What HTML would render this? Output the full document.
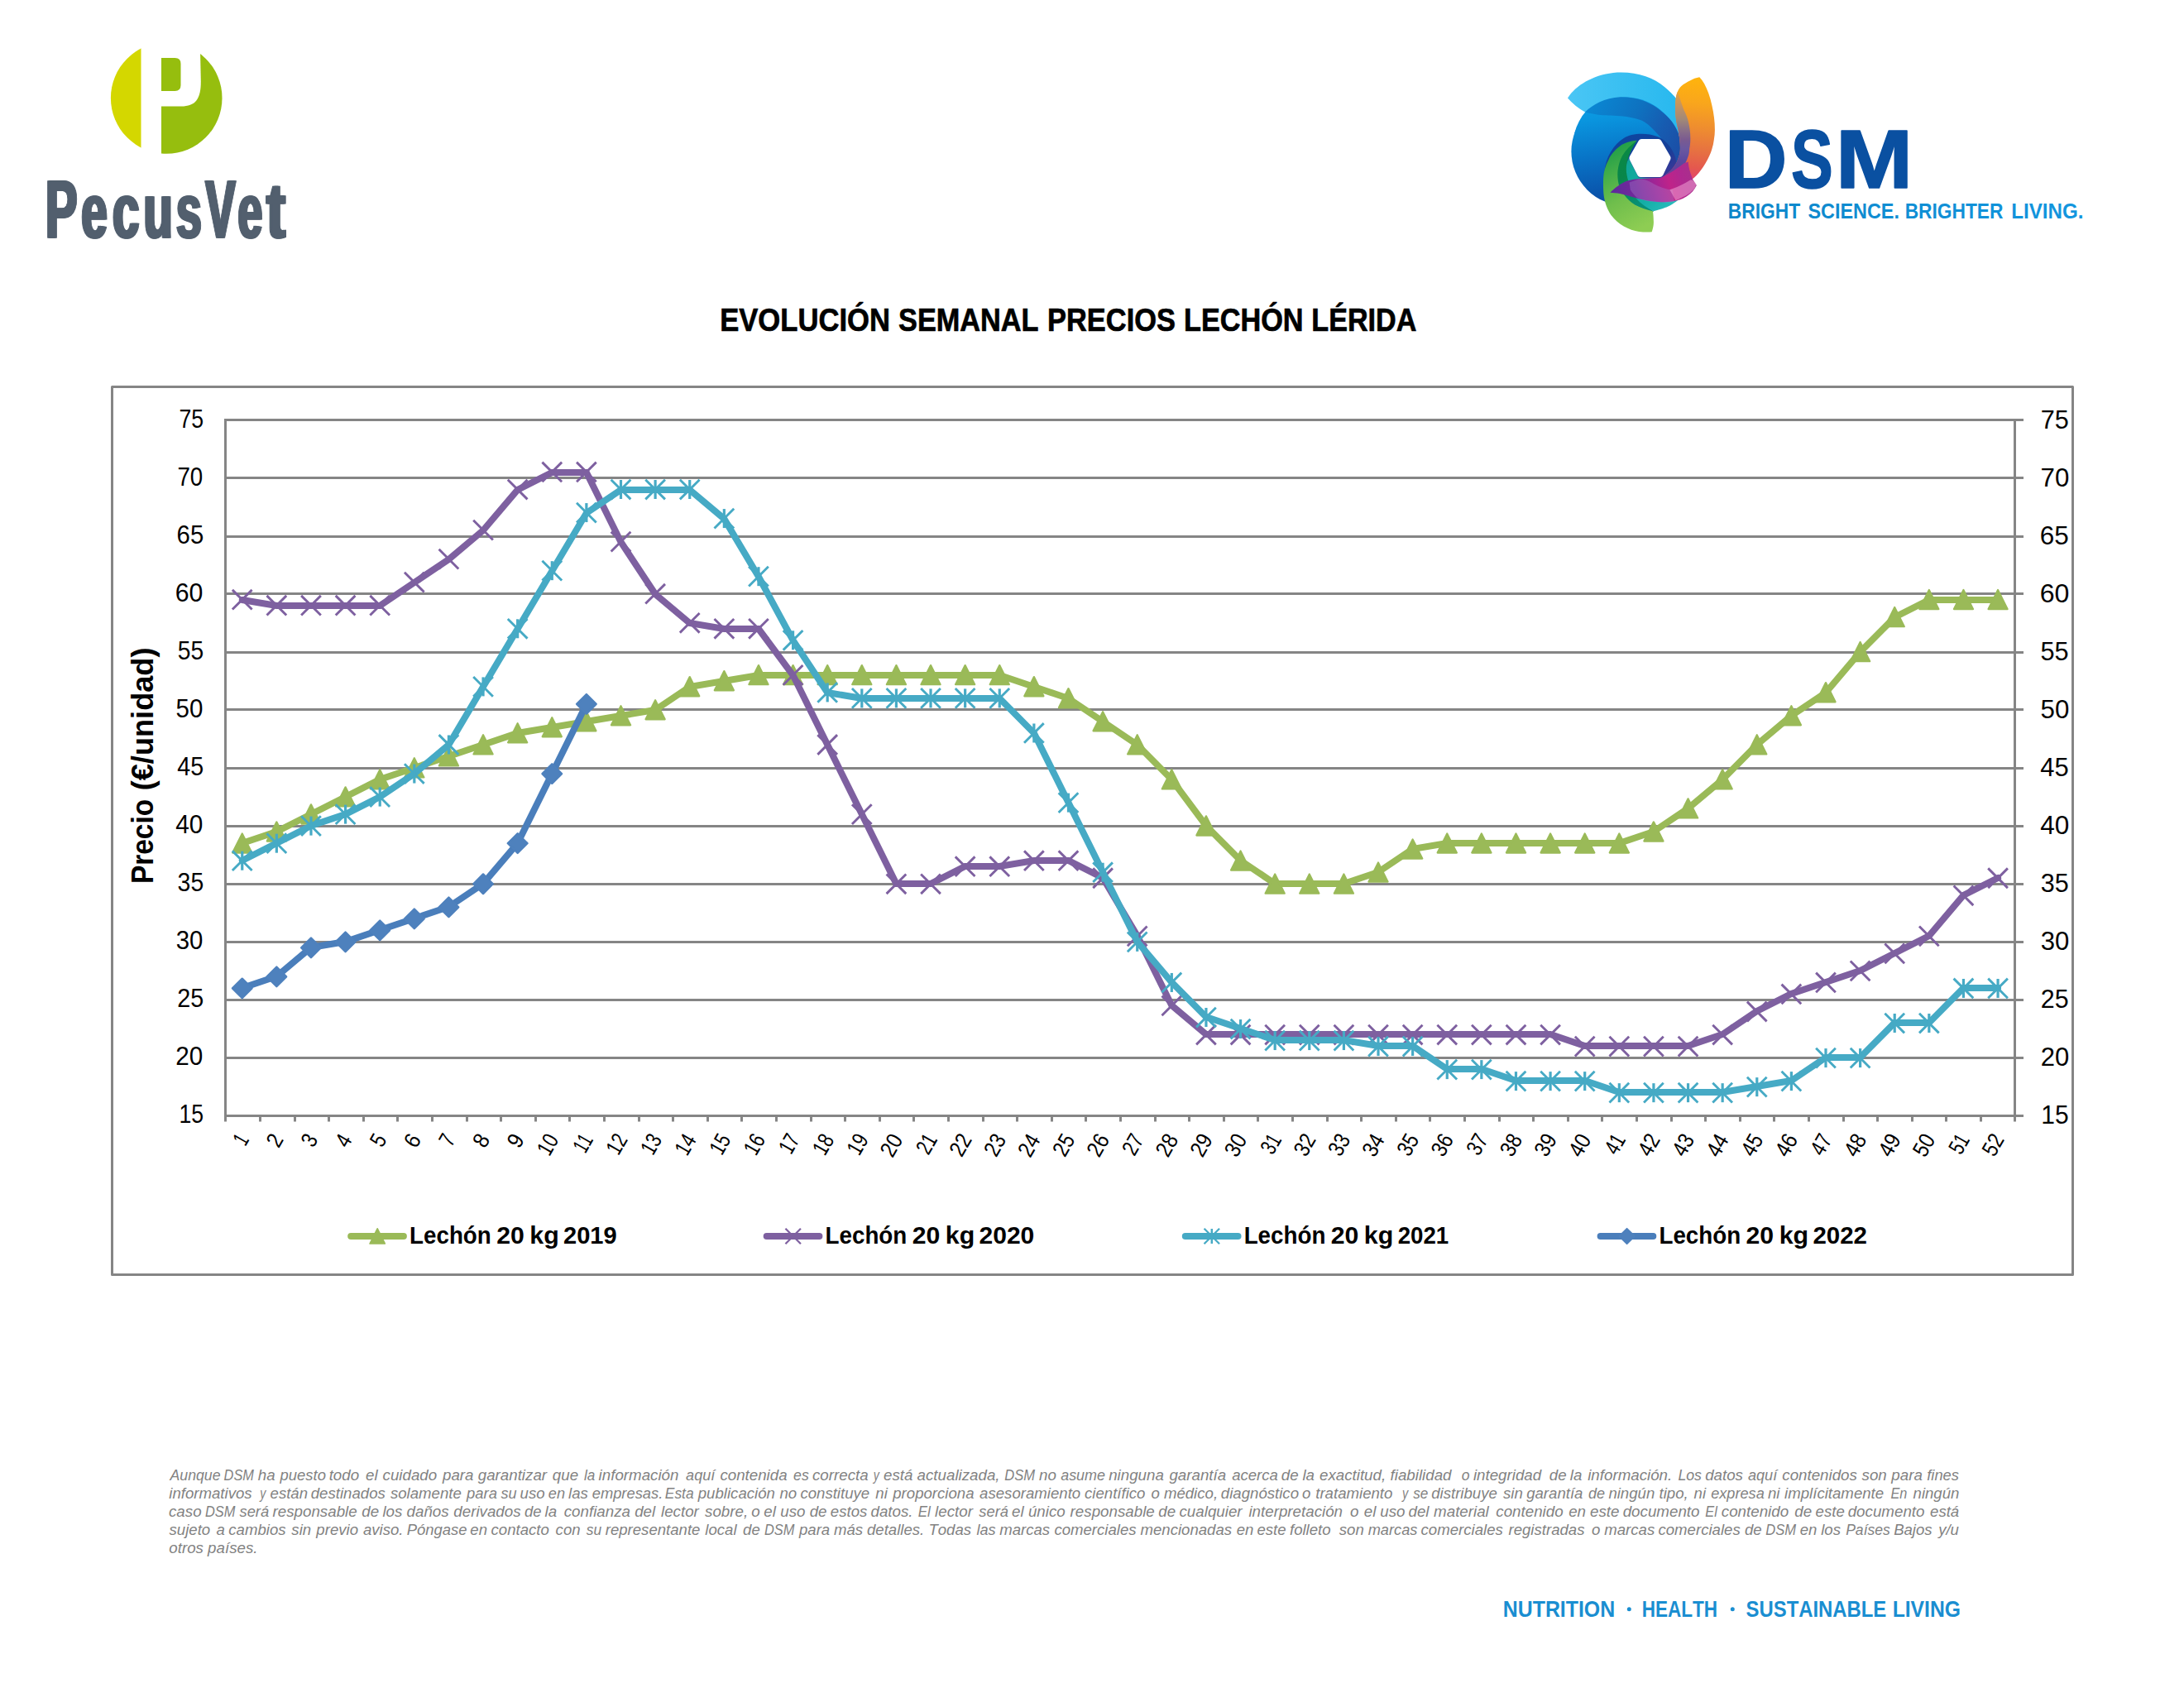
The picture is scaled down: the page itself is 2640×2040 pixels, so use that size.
<!DOCTYPE html>
<html lang="es">
<head>
<meta charset="utf-8">
<title>Evolución semanal precios lechón Lérida</title>
<style>
html,body{margin:0;padding:0;background:#fff;}
body{width:2640px;height:2040px;overflow:hidden;position:relative;font-family:"Liberation Sans",sans-serif;}
svg{position:absolute;left:0;top:0;display:block;}
text{font-family:"Liberation Sans",sans-serif;font-kerning:none;}
.b{font-weight:bold;}
.i{font-style:italic;}
</style>
</head>
<body>
<svg width="2640" height="2040" viewBox="0 0 2640 2040">

<g id="pecus">
<defs>
<clipPath id="pcL"><rect x="100" y="40" width="70.5" height="160"/></clipPath>
<clipPath id="pcR"><rect x="195" y="40" width="100" height="160"/></clipPath>
</defs>
<circle cx="201.2" cy="118.5" r="67.3" fill="#d4d700" clip-path="url(#pcL)"/>
<circle cx="201.2" cy="118.5" r="67.3" fill="#96be0e" clip-path="url(#pcR)"/>
<path d="M194 40 H241.6 L242.8 98 C243 120 236 128.5 219 128.5 H194 Z" fill="#fff"/>
<path d="M195 70.1 H211.5 Q218.5 70.1 218.5 77.1 V102.9 Q218.5 109.9 211.5 109.9 H195 Z" fill="#96be0e"/>
</g>

<g fill="#525f6e" stroke="#525f6e" stroke-width="1.4" stroke-linejoin="miter">
<text x="53.69" y="286.50" font-size="97.4" class="b" textLength="38.48" lengthAdjust="spacingAndGlyphs">P</text>
<text x="54.99" y="286.50" font-size="97.4" class="b" textLength="38.48" lengthAdjust="spacingAndGlyphs">P</text>
<text x="56.29" y="286.50" font-size="97.4" class="b" textLength="38.48" lengthAdjust="spacingAndGlyphs">P</text>
<text x="97.11" y="286.50" font-size="92.0" class="b" textLength="31.21" lengthAdjust="spacingAndGlyphs">e</text>
<text x="98.41" y="286.50" font-size="92.0" class="b" textLength="31.21" lengthAdjust="spacingAndGlyphs">e</text>
<text x="99.71" y="286.50" font-size="92.0" class="b" textLength="31.21" lengthAdjust="spacingAndGlyphs">e</text>
<text x="134.84" y="286.50" font-size="92.0" class="b" textLength="32.15" lengthAdjust="spacingAndGlyphs">c</text>
<text x="136.14" y="286.50" font-size="92.0" class="b" textLength="32.15" lengthAdjust="spacingAndGlyphs">c</text>
<text x="137.44" y="286.50" font-size="92.0" class="b" textLength="32.15" lengthAdjust="spacingAndGlyphs">c</text>
<text x="172.22" y="286.50" font-size="92.0" class="b" textLength="35.29" lengthAdjust="spacingAndGlyphs">u</text>
<text x="173.52" y="286.50" font-size="92.0" class="b" textLength="35.29" lengthAdjust="spacingAndGlyphs">u</text>
<text x="174.82" y="286.50" font-size="92.0" class="b" textLength="35.29" lengthAdjust="spacingAndGlyphs">u</text>
<text x="211.66" y="286.50" font-size="92.0" class="b" textLength="30.71" lengthAdjust="spacingAndGlyphs">s</text>
<text x="212.96" y="286.50" font-size="92.0" class="b" textLength="30.71" lengthAdjust="spacingAndGlyphs">s</text>
<text x="214.26" y="286.50" font-size="92.0" class="b" textLength="30.71" lengthAdjust="spacingAndGlyphs">s</text>
<text x="247.23" y="286.50" font-size="97.4" class="b" textLength="36.04" lengthAdjust="spacingAndGlyphs">V</text>
<text x="248.53" y="286.50" font-size="97.4" class="b" textLength="36.04" lengthAdjust="spacingAndGlyphs">V</text>
<text x="249.83" y="286.50" font-size="97.4" class="b" textLength="36.04" lengthAdjust="spacingAndGlyphs">V</text>
<text x="286.21" y="286.50" font-size="92.0" class="b" textLength="29.71" lengthAdjust="spacingAndGlyphs">e</text>
<text x="287.51" y="286.50" font-size="92.0" class="b" textLength="29.71" lengthAdjust="spacingAndGlyphs">e</text>
<text x="288.81" y="286.50" font-size="92.0" class="b" textLength="29.71" lengthAdjust="spacingAndGlyphs">e</text>
<text x="320.86" y="286.50" font-size="94.0" class="b" textLength="22.88" lengthAdjust="spacingAndGlyphs">t</text>
<text x="322.16" y="286.50" font-size="94.0" class="b" textLength="22.88" lengthAdjust="spacingAndGlyphs">t</text>
<text x="323.46" y="286.50" font-size="94.0" class="b" textLength="22.88" lengthAdjust="spacingAndGlyphs">t</text>
</g>
<g id="dsm">
<defs>
<linearGradient id="gA" x1="0" y1="0" x2="1" y2="0"><stop offset="0" stop-color="#4ac6f5"/><stop offset="1" stop-color="#27b8ee"/></linearGradient>
<linearGradient id="gB" gradientUnits="userSpaceOnUse" x1="1945" y1="125" x2="1962" y2="250"><stop offset="0" stop-color="#0b9be3"/><stop offset="0.12" stop-color="#0a96df"/><stop offset="0.5" stop-color="#0873c6"/><stop offset="1" stop-color="#0b47a0"/></linearGradient>
<linearGradient id="gC" gradientUnits="userSpaceOnUse" x1="1920" y1="125" x2="2030" y2="185"><stop offset="0" stop-color="#0a88d4"/><stop offset="0.45" stop-color="#0e72c0"/><stop offset="0.75" stop-color="#175bb0"/><stop offset="1" stop-color="#1b4ea6"/></linearGradient>
<linearGradient id="gD" x1="0" y1="0" x2="1" y2="1"><stop offset="0" stop-color="#0a48a4"/><stop offset="0.6" stop-color="#163f98"/><stop offset="1" stop-color="#4a3398"/></linearGradient>
<linearGradient id="gF" gradientUnits="userSpaceOnUse" x1="2052" y1="93" x2="2040" y2="217"><stop offset="0" stop-color="#ffb40c"/><stop offset="0.25" stop-color="#f9a61c"/><stop offset="0.5" stop-color="#ee8c30"/><stop offset="0.72" stop-color="#e67042"/><stop offset="0.88" stop-color="#e4584e"/><stop offset="1" stop-color="#e3446e"/></linearGradient>
<linearGradient id="gG" gradientUnits="userSpaceOnUse" x1="0" y1="110.8" x2="0" y2="216"><stop offset="0" stop-color="#e8a040"/><stop offset="0.21" stop-color="#b8906a"/><stop offset="0.325" stop-color="#a08878"/><stop offset="0.44" stop-color="#8a7088"/><stop offset="0.553" stop-color="#7a5a90"/><stop offset="0.658" stop-color="#6a58a0"/><stop offset="0.8" stop-color="#5a48a0"/><stop offset="1" stop-color="#6a3a98"/></linearGradient>
<linearGradient id="gH" gradientUnits="userSpaceOnUse" x1="1948" y1="236" x2="2045" y2="205"><stop offset="0" stop-color="#5b2a9c"/><stop offset="0.3" stop-color="#74289a"/><stop offset="0.55" stop-color="#a42494"/><stop offset="0.7" stop-color="#bf2389"/><stop offset="0.85" stop-color="#b02890"/><stop offset="1" stop-color="#a8308c"/></linearGradient>
<linearGradient id="gI" x1="0.3" y1="0" x2="0.6" y2="1"><stop offset="0" stop-color="#1a9c48"/><stop offset="0.3" stop-color="#45ae49"/><stop offset="0.6" stop-color="#6fbe4c"/><stop offset="1" stop-color="#8ecd53"/></linearGradient>
<linearGradient id="gJ" x1="0" y1="0" x2="0.4" y2="1"><stop offset="0" stop-color="#0b8a42"/><stop offset="0.5" stop-color="#08864a"/><stop offset="0.75" stop-color="#078c62"/><stop offset="1" stop-color="#079078"/></linearGradient>
<linearGradient id="gK" x1="0" y1="0" x2="1" y2="1"><stop offset="0" stop-color="#0fa596"/><stop offset="0.6" stop-color="#14aea6"/><stop offset="1" stop-color="#2cc0c2"/></linearGradient>
</defs>
<!-- A light blue petal -->
<path d="M1895 118.5 C1905 103 1925 91 1950 88 C1975 85.5 1998 93 2012 105 C2018 110 2023 115 2027 120 L2034 165 L1990 150 L1916.1 135.4 Q1904 129 1895 118.5 Z" fill="url(#gA)"/>
<!-- B blue disc -->
<circle cx="1965" cy="183" r="65.6" fill="url(#gB)"/>
<path d="M1917 134.6 C1910.5 142 1906 151 1903.2 161 L1916 168 L1930 138 Z" fill="url(#gB)"/>
<!-- C upper band -->
<path d="M1916.1 135.4 C1925 126.5 1940 118.2 1958.3 117.3 C1977 116.8 1996 123 2009.5 135.5 C2021 144 2029 157 2032 171.6 L2033 190 L2022 200 L2020 191 C2016 177 2008 166 2000 158 C1995 153 1990 148.1 1984.8 145.8 C1979 143.3 1973 142.2 1966 141 C1955 139.6 1945 139.8 1937.4 139.2 C1930 138.6 1923 137 1916.1 135.4 Z" fill="url(#gC)"/>
<!-- D darkest band -->
<path d="M1939.5 207 C1941 190 1950 175 1962.8 167 C1972 161 1990 160 2004 165.2 C2014 169 2022 180 2025.1 189.9 C2028 199 2026 209 2018 216 L2006 218 L1975 218 L1950 215 Z" fill="url(#gD)"/>
<!-- F orange petal -->
<path d="M2054.3 93.3 C2050 94 2046.5 95.5 2043.3 97.2 C2039 99.3 2035.5 101.3 2032.7 103.7 C2030.5 105.8 2029 108 2027.9 110.8 C2026.5 114 2025.8 117.5 2025.5 121.5 C2025.1 125.5 2025 129 2025 133.3 C2025.1 137.5 2025.5 141.5 2026.1 145.2 C2026.8 149.5 2027.7 153 2028.5 157 C2029.3 161 2029.9 165 2030.3 168.9 C2030.7 173 2031 176.5 2030.9 180 C2030.8 184 2030.2 187 2029 190 C2027 198 2021 207 2007 216 L2045.3 216.7 C2052 212 2060 202 2066.3 188.3 C2067.6 185.6 2068.6 182.8 2069.4 180 C2070.6 176.3 2071.4 172.6 2071.8 168.9 C2072.5 165 2072.9 161 2072.9 157 C2072.9 152 2072.6 147 2072 142.2 C2071.4 137 2070.5 132 2069.4 127.4 C2068.3 122.3 2066.9 117.3 2065.2 112.6 C2063.7 108.5 2061.9 104.5 2059.9 100.7 C2058.3 97.9 2056.4 95.4 2054.3 93.3 Z" fill="url(#gF)"/>
<!-- G translucent overlay on orange left part -->
<path d="M2027.9 110.8 C2026.5 114 2025.8 117.5 2025.5 121.5 C2025.1 125.5 2025 129 2025 133.3 C2025.1 137.5 2025.5 141.5 2026.1 145.2 C2026.8 149.5 2027.7 153 2028.5 157 C2029.3 161 2029.9 165 2030.3 168.9 C2030.7 173 2031 176.5 2030.9 180 C2030.8 184 2030.2 187 2029 190 C2027 198 2021 207 2007 216 L2026 214 C2032 208 2037.5 198 2041 188 C2041.8 185.5 2042 183 2042.1 180 C2042.8 176.5 2043.3 172.5 2043.3 168.9 C2043.4 165 2043.2 161 2042.7 157 C2042.2 153 2041.4 149 2040.4 145.2 C2039.2 141 2037.5 137 2035.6 133.3 C2034 129.3 2032.7 125.3 2031.5 121.5 C2030.3 117.8 2029.1 114.2 2027.9 110.8 Z" fill="url(#gG)"/>
<!-- K teal -->
<path d="M1968.8 191.5 L1980.7 214.4 L2008 216 L2028.2 242 C2022 247 2016 250 2013.2 250.8 C2008 252.8 2003 254.2 1999.5 254.9 L1990 254 C1975 248 1966 235 1964 220 C1963 210 1965 198 1968.8 191.5 Z" fill="url(#gK)"/>
<!-- J dark green band -->
<path d="M1978.5 170.5 C1974 176 1971 183 1968.8 189.5 C1966 196 1965 204 1966.5 211.2 C1968 220 1972 232 1978 240 C1984 247 1991 251.5 1999 255.4 L1996 258 L1960 240 L1953 205 L1962 180 Z" fill="url(#gJ)"/>
<!-- I light green petal -->
<path d="M1979 169.8 C1970 170.5 1963 173 1958.3 176.4 C1951 182 1947 187 1944.5 192.9 C1940.5 200 1938.3 208 1938.1 215.8 C1937.8 224 1938 232 1939 238.7 C1940.5 247 1943.5 254 1947.3 259.7 C1951.5 265.5 1957 270 1962.8 273.5 C1969 277 1975 279 1981.2 279.9 C1987 280.7 1992 280.7 1996.7 280.3 C1998.6 275 1999.2 270 1998.8 266.2 C1998.7 262 1998.5 258 1997.8 255.2 C1990 253.5 1983 251 1976.6 247.8 C1971 244 1966.5 240 1963.8 235.9 C1960.5 232 1958.3 228 1957.3 224.9 C1955.5 219 1955 212 1955.5 206.6 C1956.2 200 1958 194 1961 188.3 C1965 181.5 1971 175 1979 169.8 Z" fill="url(#gI)"/>
<!-- H magenta petal -->
<path d="M1946.4 232.7 C1952 227 1960 221 1967.4 218.5 C1975 216 1985 215.5 2006.8 214.9 C2015 212 2028 203 2035.2 197.5 L2040.7 195.6 C2041 200 2042 206 2046.2 216.7 L2050.8 224 C2048 230 2044 234 2040.7 235.9 C2036 239.5 2031 241.5 2026.9 242.3 C2020 244 2014 244.5 2008.6 244.2 C2002 244 1996 243.5 1990.3 242.3 C1984 241 1978 239.5 1972 237.8 C1966 236 1962 235 1958.3 234.1 C1954 233.2 1950 232.8 1946.4 232.7 Z" fill="url(#gH)"/>
<path d="M1969.5 220.4 L1980.9 216.5 C1988 216 1994 219 1998.2 221.7 C2006 226 2014 229 2022 229.5 L2024 244 C2016 245 2010 244.6 2004.7 244.2 C2000 244 1996 243.6 1991.7 242.9 C1988 242.3 1984 241.2 1980.9 239.9 C1978.5 238.6 1976.8 237.2 1975.4 235.4 C1973.5 233.5 1972 231.5 1970.8 229.5 Z" fill="#a98ad0" opacity="0.33"/>
<path d="M2018.4 229.2 C2028 226 2036 222 2043.3 217.4 L2045.7 217.4 L2050.4 222.1 L2049.2 226.3 C2047.5 229 2045.5 231 2043.3 232.8 C2040.5 235 2037.5 236.7 2034.4 238.1 C2031.5 239.8 2028.5 241.2 2025.5 242.3 Z" fill="#f0a0d4" opacity="0.55"/>
<!-- hexagon hole -->
<path d="M1984.3 172.0 L2004.6 172.0 L2015.6 191.1 L2006.7 209.9 L1983.0 209.9 L1973.4 191.1 Z" fill="#fff" stroke="#fff" stroke-width="8" stroke-linejoin="round"/>
</g>

<g fill="#0a50a1" stroke="#0a50a1" stroke-width="1.6" stroke-linejoin="round">
<text x="2084.79" y="226.50" font-size="100" class="b" textLength="75.72" lengthAdjust="spacingAndGlyphs">D</text>
<text x="2164.91" y="226.50" font-size="100" class="b" textLength="50.77" lengthAdjust="spacingAndGlyphs">S</text>
<text x="2218.88" y="226.50" font-size="100" class="b" textLength="93.64" lengthAdjust="spacingAndGlyphs">M</text>
</g>
<defs><linearGradient id="gTag" gradientUnits="userSpaceOnUse" x1="2090" y1="0" x2="2517" y2="0"><stop offset="0" stop-color="#0d86c9"/><stop offset="1" stop-color="#1296df"/></linearGradient></defs>
<g fill="url(#gTag)">
<text x="2088.78" y="264.00" font-size="26.3" class="b" textLength="87.27" lengthAdjust="spacingAndGlyphs">BRIGHT</text>
<text x="2185.43" y="264.00" font-size="26.3" class="b" textLength="110.48" lengthAdjust="spacingAndGlyphs">SCIENCE.</text>
<text x="2302.68" y="264.00" font-size="26.3" class="b" textLength="118.79" lengthAdjust="spacingAndGlyphs">BRIGHTER</text>
<text x="2431.18" y="264.00" font-size="26.3" class="b" textLength="87.28" lengthAdjust="spacingAndGlyphs">LIVING.</text>
</g>
<g fill="#000" stroke="#000" stroke-width="0.7">
<text x="870.13" y="400.20" font-size="39.0" class="b" textLength="205.85" lengthAdjust="spacingAndGlyphs">EVOLUCIÓN</text>
<text x="1086.06" y="400.20" font-size="39.0" class="b" textLength="169.44" lengthAdjust="spacingAndGlyphs">SEMANAL</text>
<text x="1266.05" y="400.20" font-size="39.0" class="b" textLength="154.85" lengthAdjust="spacingAndGlyphs">PRECIOS</text>
<text x="1431.06" y="400.20" font-size="39.0" class="b" textLength="144.50" lengthAdjust="spacingAndGlyphs">LECHÓN</text>
<text x="1585.37" y="400.20" font-size="39.0" class="b" textLength="126.98" lengthAdjust="spacingAndGlyphs">LÉRIDA</text>
</g>
<rect x="135.5" y="467.5" width="2370.0" height="1073.0" fill="none" stroke="#858585" stroke-width="3" stroke-linejoin="round"/>
<g stroke="#858585" stroke-width="3" fill="none">
<line x1="271.0" y1="1348.5" x2="2446" y2="1348.5"/>
<line x1="271.0" y1="1278.5" x2="2446" y2="1278.5"/>
<line x1="271.0" y1="1208.5" x2="2446" y2="1208.5"/>
<line x1="271.0" y1="1138.5" x2="2446" y2="1138.5"/>
<line x1="271.0" y1="1068.5" x2="2446" y2="1068.5"/>
<line x1="271.0" y1="998.5" x2="2446" y2="998.5"/>
<line x1="271.0" y1="928.5" x2="2446" y2="928.5"/>
<line x1="271.0" y1="857.5" x2="2446" y2="857.5"/>
<line x1="271.0" y1="788.5" x2="2446" y2="788.5"/>
<line x1="271.0" y1="717.5" x2="2446" y2="717.5"/>
<line x1="271.0" y1="648.5" x2="2446" y2="648.5"/>
<line x1="271.0" y1="577.5" x2="2446" y2="577.5"/>
<line x1="271.0" y1="507.5" x2="2446" y2="507.5"/>
<line x1="272.5" y1="506.0" x2="272.5" y2="1355.5"/>
<line x1="2435.5" y1="506.0" x2="2435.5" y2="1355.5"/>
<line x1="314.5" y1="1348.5" x2="314.5" y2="1355.5"/>
<line x1="356.5" y1="1348.5" x2="356.5" y2="1355.5"/>
<line x1="397.5" y1="1348.5" x2="397.5" y2="1355.5"/>
<line x1="439.5" y1="1348.5" x2="439.5" y2="1355.5"/>
<line x1="480.5" y1="1348.5" x2="480.5" y2="1355.5"/>
<line x1="522.5" y1="1348.5" x2="522.5" y2="1355.5"/>
<line x1="564.5" y1="1348.5" x2="564.5" y2="1355.5"/>
<line x1="605.5" y1="1348.5" x2="605.5" y2="1355.5"/>
<line x1="647.5" y1="1348.5" x2="647.5" y2="1355.5"/>
<line x1="688.5" y1="1348.5" x2="688.5" y2="1355.5"/>
<line x1="730.5" y1="1348.5" x2="730.5" y2="1355.5"/>
<line x1="772.5" y1="1348.5" x2="772.5" y2="1355.5"/>
<line x1="813.5" y1="1348.5" x2="813.5" y2="1355.5"/>
<line x1="855.5" y1="1348.5" x2="855.5" y2="1355.5"/>
<line x1="896.5" y1="1348.5" x2="896.5" y2="1355.5"/>
<line x1="938.5" y1="1348.5" x2="938.5" y2="1355.5"/>
<line x1="980.5" y1="1348.5" x2="980.5" y2="1355.5"/>
<line x1="1021.5" y1="1348.5" x2="1021.5" y2="1355.5"/>
<line x1="1063.5" y1="1348.5" x2="1063.5" y2="1355.5"/>
<line x1="1104.5" y1="1348.5" x2="1104.5" y2="1355.5"/>
<line x1="1146.5" y1="1348.5" x2="1146.5" y2="1355.5"/>
<line x1="1188.5" y1="1348.5" x2="1188.5" y2="1355.5"/>
<line x1="1229.5" y1="1348.5" x2="1229.5" y2="1355.5"/>
<line x1="1271.5" y1="1348.5" x2="1271.5" y2="1355.5"/>
<line x1="1312.5" y1="1348.5" x2="1312.5" y2="1355.5"/>
<line x1="1354.5" y1="1348.5" x2="1354.5" y2="1355.5"/>
<line x1="1396.5" y1="1348.5" x2="1396.5" y2="1355.5"/>
<line x1="1437.5" y1="1348.5" x2="1437.5" y2="1355.5"/>
<line x1="1479.5" y1="1348.5" x2="1479.5" y2="1355.5"/>
<line x1="1520.5" y1="1348.5" x2="1520.5" y2="1355.5"/>
<line x1="1562.5" y1="1348.5" x2="1562.5" y2="1355.5"/>
<line x1="1604.5" y1="1348.5" x2="1604.5" y2="1355.5"/>
<line x1="1645.5" y1="1348.5" x2="1645.5" y2="1355.5"/>
<line x1="1687.5" y1="1348.5" x2="1687.5" y2="1355.5"/>
<line x1="1728.5" y1="1348.5" x2="1728.5" y2="1355.5"/>
<line x1="1770.5" y1="1348.5" x2="1770.5" y2="1355.5"/>
<line x1="1812.5" y1="1348.5" x2="1812.5" y2="1355.5"/>
<line x1="1853.5" y1="1348.5" x2="1853.5" y2="1355.5"/>
<line x1="1895.5" y1="1348.5" x2="1895.5" y2="1355.5"/>
<line x1="1936.5" y1="1348.5" x2="1936.5" y2="1355.5"/>
<line x1="1978.5" y1="1348.5" x2="1978.5" y2="1355.5"/>
<line x1="2020.5" y1="1348.5" x2="2020.5" y2="1355.5"/>
<line x1="2061.5" y1="1348.5" x2="2061.5" y2="1355.5"/>
<line x1="2103.5" y1="1348.5" x2="2103.5" y2="1355.5"/>
<line x1="2144.5" y1="1348.5" x2="2144.5" y2="1355.5"/>
<line x1="2186.5" y1="1348.5" x2="2186.5" y2="1355.5"/>
<line x1="2228.5" y1="1348.5" x2="2228.5" y2="1355.5"/>
<line x1="2269.5" y1="1348.5" x2="2269.5" y2="1355.5"/>
<line x1="2311.5" y1="1348.5" x2="2311.5" y2="1355.5"/>
<line x1="2352.5" y1="1348.5" x2="2352.5" y2="1355.5"/>
<line x1="2394.5" y1="1348.5" x2="2394.5" y2="1355.5"/>
</g>
<g fill="#000">
<text x="216.47" y="1357.24" font-size="32.2" textLength="29.65" lengthAdjust="spacingAndGlyphs">15</text>
<text x="2467.32" y="1358.00" font-size="31.0" textLength="33.34" lengthAdjust="spacingAndGlyphs">15</text>
<text x="212.31" y="1287.22" font-size="32.2" textLength="33.06" lengthAdjust="spacingAndGlyphs">20</text>
<text x="2466.84" y="1288.00" font-size="31.0" textLength="34.47" lengthAdjust="spacingAndGlyphs">20</text>
<text x="214.26" y="1217.20" font-size="32.2" textLength="31.95" lengthAdjust="spacingAndGlyphs">25</text>
<text x="2466.87" y="1218.00" font-size="31.0" textLength="33.80" lengthAdjust="spacingAndGlyphs">25</text>
<text x="212.68" y="1147.18" font-size="32.2" textLength="32.67" lengthAdjust="spacingAndGlyphs">30</text>
<text x="2466.72" y="1148.00" font-size="31.0" textLength="34.60" lengthAdjust="spacingAndGlyphs">30</text>
<text x="214.62" y="1077.16" font-size="32.2" textLength="31.57" lengthAdjust="spacingAndGlyphs">35</text>
<text x="2466.74" y="1078.00" font-size="31.0" textLength="33.94" lengthAdjust="spacingAndGlyphs">35</text>
<text x="212.22" y="1007.14" font-size="32.2" textLength="33.15" lengthAdjust="spacingAndGlyphs">40</text>
<text x="2466.28" y="1008.00" font-size="31.0" textLength="35.05" lengthAdjust="spacingAndGlyphs">40</text>
<text x="214.34" y="937.12" font-size="32.2" textLength="31.86" lengthAdjust="spacingAndGlyphs">45</text>
<text x="2466.29" y="938.00" font-size="31.0" textLength="34.41" lengthAdjust="spacingAndGlyphs">45</text>
<text x="212.52" y="867.10" font-size="32.2" textLength="32.84" lengthAdjust="spacingAndGlyphs">50</text>
<text x="2466.55" y="868.00" font-size="31.0" textLength="34.77" lengthAdjust="spacingAndGlyphs">50</text>
<text x="214.77" y="797.08" font-size="32.2" textLength="31.42" lengthAdjust="spacingAndGlyphs">55</text>
<text x="2466.57" y="798.00" font-size="31.0" textLength="34.12" lengthAdjust="spacingAndGlyphs">55</text>
<text x="211.66" y="727.06" font-size="32.2" textLength="33.72" lengthAdjust="spacingAndGlyphs">60</text>
<text x="2465.67" y="728.00" font-size="31.0" textLength="35.68" lengthAdjust="spacingAndGlyphs">60</text>
<text x="213.61" y="657.04" font-size="32.2" textLength="32.62" lengthAdjust="spacingAndGlyphs">65</text>
<text x="2465.70" y="658.00" font-size="31.0" textLength="35.02" lengthAdjust="spacingAndGlyphs">65</text>
<text x="214.48" y="587.02" font-size="32.2" textLength="30.80" lengthAdjust="spacingAndGlyphs">70</text>
<text x="2466.60" y="588.00" font-size="31.0" textLength="34.72" lengthAdjust="spacingAndGlyphs">70</text>
<text x="216.43" y="517.00" font-size="32.2" textLength="29.69" lengthAdjust="spacingAndGlyphs">75</text>
<text x="2466.63" y="518.00" font-size="31.0" textLength="34.06" lengthAdjust="spacingAndGlyphs">75</text>
</g>
<g fill="#000">
<text transform="translate(301.3 1378.0) rotate(-60)" x="-9.64" y="0" font-size="27.2" textLength="10.57" lengthAdjust="spacingAndGlyphs">1</text>
<text transform="translate(342.9 1378.0) rotate(-60)" x="-12.10" y="0" font-size="27.2" textLength="13.31" lengthAdjust="spacingAndGlyphs">2</text>
<text transform="translate(384.5 1378.0) rotate(-60)" x="-11.59" y="0" font-size="27.2" textLength="12.59" lengthAdjust="spacingAndGlyphs">3</text>
<text transform="translate(426.1 1378.0) rotate(-60)" x="-12.10" y="0" font-size="27.2" textLength="12.78" lengthAdjust="spacingAndGlyphs">4</text>
<text transform="translate(467.7 1378.0) rotate(-60)" x="-11.64" y="0" font-size="27.2" textLength="12.59" lengthAdjust="spacingAndGlyphs">5</text>
<text transform="translate(509.3 1378.0) rotate(-60)" x="-12.66" y="0" font-size="27.2" textLength="13.75" lengthAdjust="spacingAndGlyphs">6</text>
<text transform="translate(550.9 1378.0) rotate(-60)" x="-10.63" y="0" font-size="27.2" textLength="11.68" lengthAdjust="spacingAndGlyphs">7</text>
<text transform="translate(592.5 1378.0) rotate(-60)" x="-12.46" y="0" font-size="27.2" textLength="13.52" lengthAdjust="spacingAndGlyphs">8</text>
<text transform="translate(634.1 1378.0) rotate(-60)" x="-12.57" y="0" font-size="27.2" textLength="13.73" lengthAdjust="spacingAndGlyphs">9</text>
<text transform="translate(675.7 1378.0) rotate(-60)" x="-23.56" y="0" font-size="27.2" textLength="24.41" lengthAdjust="spacingAndGlyphs">10</text>
<text transform="translate(717.3 1378.0) rotate(-60)" x="-19.75" y="0" font-size="27.2" textLength="20.66" lengthAdjust="spacingAndGlyphs">11</text>
<text transform="translate(758.9 1378.0) rotate(-60)" x="-22.67" y="0" font-size="27.2" textLength="23.74" lengthAdjust="spacingAndGlyphs">12</text>
<text transform="translate(800.5 1378.0) rotate(-60)" x="-22.47" y="0" font-size="27.2" textLength="23.40" lengthAdjust="spacingAndGlyphs">13</text>
<text transform="translate(842.1 1378.0) rotate(-60)" x="-23.36" y="0" font-size="27.2" textLength="23.99" lengthAdjust="spacingAndGlyphs">14</text>
<text transform="translate(883.7 1378.0) rotate(-60)" x="-22.47" y="0" font-size="27.2" textLength="23.35" lengthAdjust="spacingAndGlyphs">15</text>
<text transform="translate(925.3 1378.0) rotate(-60)" x="-23.20" y="0" font-size="27.2" textLength="24.16" lengthAdjust="spacingAndGlyphs">16</text>
<text transform="translate(966.9 1378.0) rotate(-60)" x="-21.21" y="0" font-size="27.2" textLength="22.21" lengthAdjust="spacingAndGlyphs">17</text>
<text transform="translate(1008.5 1378.0) rotate(-60)" x="-23.20" y="0" font-size="27.2" textLength="24.14" lengthAdjust="spacingAndGlyphs">18</text>
<text transform="translate(1050.1 1378.0) rotate(-60)" x="-23.21" y="0" font-size="27.2" textLength="24.24" lengthAdjust="spacingAndGlyphs">19</text>
<text transform="translate(1091.7 1378.0) rotate(-60)" x="-25.80" y="0" font-size="27.2" textLength="26.74" lengthAdjust="spacingAndGlyphs">20</text>
<text transform="translate(1133.3 1378.0) rotate(-60)" x="-22.08" y="0" font-size="27.2" textLength="23.10" lengthAdjust="spacingAndGlyphs">21</text>
<text transform="translate(1174.9 1378.0) rotate(-60)" x="-24.92" y="0" font-size="27.2" textLength="26.11" lengthAdjust="spacingAndGlyphs">22</text>
<text transform="translate(1216.5 1378.0) rotate(-60)" x="-24.74" y="0" font-size="27.2" textLength="25.76" lengthAdjust="spacingAndGlyphs">23</text>
<text transform="translate(1258.1 1378.0) rotate(-60)" x="-25.61" y="0" font-size="27.2" textLength="26.30" lengthAdjust="spacingAndGlyphs">24</text>
<text transform="translate(1299.7 1378.0) rotate(-60)" x="-24.74" y="0" font-size="27.2" textLength="25.71" lengthAdjust="spacingAndGlyphs">25</text>
<text transform="translate(1341.3 1378.0) rotate(-60)" x="-25.45" y="0" font-size="27.2" textLength="26.50" lengthAdjust="spacingAndGlyphs">26</text>
<text transform="translate(1382.9 1378.0) rotate(-60)" x="-23.51" y="0" font-size="27.2" textLength="24.62" lengthAdjust="spacingAndGlyphs">27</text>
<text transform="translate(1424.5 1378.0) rotate(-60)" x="-25.45" y="0" font-size="27.2" textLength="26.48" lengthAdjust="spacingAndGlyphs">28</text>
<text transform="translate(1466.1 1378.0) rotate(-60)" x="-25.45" y="0" font-size="27.2" textLength="26.59" lengthAdjust="spacingAndGlyphs">29</text>
<text transform="translate(1507.7 1378.0) rotate(-60)" x="-25.32" y="0" font-size="27.2" textLength="26.24" lengthAdjust="spacingAndGlyphs">30</text>
<text transform="translate(1549.3 1378.0) rotate(-60)" x="-21.65" y="0" font-size="27.2" textLength="22.64" lengthAdjust="spacingAndGlyphs">31</text>
<text transform="translate(1590.9 1378.0) rotate(-60)" x="-24.45" y="0" font-size="27.2" textLength="25.61" lengthAdjust="spacingAndGlyphs">32</text>
<text transform="translate(1632.5 1378.0) rotate(-60)" x="-24.27" y="0" font-size="27.2" textLength="25.27" lengthAdjust="spacingAndGlyphs">33</text>
<text transform="translate(1674.1 1378.0) rotate(-60)" x="-25.14" y="0" font-size="27.2" textLength="25.82" lengthAdjust="spacingAndGlyphs">34</text>
<text transform="translate(1715.7 1378.0) rotate(-60)" x="-24.27" y="0" font-size="27.2" textLength="25.22" lengthAdjust="spacingAndGlyphs">35</text>
<text transform="translate(1757.3 1378.0) rotate(-60)" x="-24.97" y="0" font-size="27.2" textLength="26.00" lengthAdjust="spacingAndGlyphs">36</text>
<text transform="translate(1798.9 1378.0) rotate(-60)" x="-23.05" y="0" font-size="27.2" textLength="24.14" lengthAdjust="spacingAndGlyphs">37</text>
<text transform="translate(1840.5 1378.0) rotate(-60)" x="-24.97" y="0" font-size="27.2" textLength="25.99" lengthAdjust="spacingAndGlyphs">38</text>
<text transform="translate(1882.1 1378.0) rotate(-60)" x="-24.98" y="0" font-size="27.2" textLength="26.09" lengthAdjust="spacingAndGlyphs">39</text>
<text transform="translate(1923.7 1378.0) rotate(-60)" x="-25.82" y="0" font-size="27.2" textLength="26.76" lengthAdjust="spacingAndGlyphs">40</text>
<text transform="translate(1965.3 1378.0) rotate(-60)" x="-22.20" y="0" font-size="27.2" textLength="23.21" lengthAdjust="spacingAndGlyphs">41</text>
<text transform="translate(2006.9 1378.0) rotate(-60)" x="-24.96" y="0" font-size="27.2" textLength="26.14" lengthAdjust="spacingAndGlyphs">42</text>
<text transform="translate(2048.5 1378.0) rotate(-60)" x="-24.78" y="0" font-size="27.2" textLength="25.80" lengthAdjust="spacingAndGlyphs">43</text>
<text transform="translate(2090.1 1378.0) rotate(-60)" x="-25.64" y="0" font-size="27.2" textLength="26.33" lengthAdjust="spacingAndGlyphs">44</text>
<text transform="translate(2131.7 1378.0) rotate(-60)" x="-24.78" y="0" font-size="27.2" textLength="25.76" lengthAdjust="spacingAndGlyphs">45</text>
<text transform="translate(2173.3 1378.0) rotate(-60)" x="-25.47" y="0" font-size="27.2" textLength="26.52" lengthAdjust="spacingAndGlyphs">46</text>
<text transform="translate(2214.9 1378.0) rotate(-60)" x="-23.58" y="0" font-size="27.2" textLength="24.69" lengthAdjust="spacingAndGlyphs">47</text>
<text transform="translate(2256.5 1378.0) rotate(-60)" x="-25.47" y="0" font-size="27.2" textLength="26.51" lengthAdjust="spacingAndGlyphs">48</text>
<text transform="translate(2298.1 1378.0) rotate(-60)" x="-25.48" y="0" font-size="27.2" textLength="26.61" lengthAdjust="spacingAndGlyphs">49</text>
<text transform="translate(2339.7 1378.0) rotate(-60)" x="-25.37" y="0" font-size="27.2" textLength="26.29" lengthAdjust="spacingAndGlyphs">50</text>
<text transform="translate(2381.3 1378.0) rotate(-60)" x="-21.69" y="0" font-size="27.2" textLength="22.68" lengthAdjust="spacingAndGlyphs">51</text>
<text transform="translate(2422.9 1378.0) rotate(-60)" x="-24.50" y="0" font-size="27.2" textLength="25.66" lengthAdjust="spacingAndGlyphs">52</text>
</g>
<g transform="translate(185 1065.8) rotate(-90)" fill="#000">
<text x="-2.23" y="0.00" font-size="36.8" class="b" textLength="102.14" lengthAdjust="spacingAndGlyphs">Precio</text>
<text x="110.50" y="0.00" font-size="36.8" class="b" textLength="172.80" lengthAdjust="spacingAndGlyphs">(€/unidad)</text>
</g>
<defs>
<path id="mTri" d="M0 -11.8 L11.6 11.4 L-11.6 11.4 Z" fill="#9aba58" stroke="#9aba58" stroke-width="2.2" stroke-linejoin="round"/>
<path id="mX" d="M-11.85 -11.85 L11.85 11.85 M-11.85 11.85 L11.85 -11.85" fill="none" stroke="#7e60a0" stroke-width="2.9"/>
<g id="mStar"><path d="M-11.85 -11.85 L11.85 11.85 M-11.85 11.85 L11.85 -11.85" fill="none" stroke="#46aac5" stroke-width="2.9"/><path d="M0 -11.5 V11.5" fill="none" stroke="#46aac5" stroke-width="3.2"/></g>
<path id="mDia" d="M0 -11.8 L11.8 0 L0 11.8 L-11.8 0 Z" fill="#4e81bd" stroke="#4e81bd" stroke-width="2.4" stroke-linejoin="round"/>
</defs>
<polyline points="292.8,1019.0 334.4,1005.0 376.0,984.0 417.6,963.0 459.2,942.0 500.8,928.0 542.4,914.0 584.0,900.0 625.7,886.0 667.3,879.0 708.9,872.0 750.5,865.0 792.1,858.0 833.7,830.0 875.3,823.0 917.0,816.0 958.6,816.0 1000.2,816.0 1041.8,816.0 1083.4,816.0 1125.0,816.0 1166.6,816.0 1208.3,816.0 1249.9,830.0 1291.5,844.0 1333.1,872.0 1374.7,900.0 1416.3,942.0 1457.9,998.0 1499.6,1040.0 1541.2,1068.0 1582.8,1068.0 1624.4,1068.0 1666.0,1054.0 1707.6,1026.0 1749.2,1019.0 1790.9,1019.0 1832.5,1019.0 1874.1,1019.0 1915.7,1019.0 1957.3,1019.0 1998.9,1005.0 2040.5,977.0 2082.2,942.0 2123.8,900.0 2165.4,865.0 2207.0,837.0 2248.6,788.0 2290.2,746.0 2331.8,725.0 2373.4,725.0 2415.1,725.0" fill="none" stroke="#9aba58" stroke-width="8.0" stroke-linejoin="miter" stroke-miterlimit="3" stroke-linecap="round"/>
<use href="#mTri" x="292.75" y="1019.18"/>
<use href="#mTri" x="334.36" y="1005.16"/>
<use href="#mTri" x="375.98" y="984.13"/>
<use href="#mTri" x="417.59" y="963.10"/>
<use href="#mTri" x="459.21" y="942.06"/>
<use href="#mTri" x="500.82" y="928.04"/>
<use href="#mTri" x="542.43" y="914.02"/>
<use href="#mTri" x="584.05" y="900.00"/>
<use href="#mTri" x="625.66" y="885.97"/>
<use href="#mTri" x="667.28" y="878.96"/>
<use href="#mTri" x="708.89" y="871.95"/>
<use href="#mTri" x="750.50" y="864.94"/>
<use href="#mTri" x="792.12" y="857.93"/>
<use href="#mTri" x="833.73" y="829.89"/>
<use href="#mTri" x="875.35" y="822.88"/>
<use href="#mTri" x="916.96" y="815.86"/>
<use href="#mTri" x="958.57" y="815.86"/>
<use href="#mTri" x="1000.19" y="815.86"/>
<use href="#mTri" x="1041.80" y="815.86"/>
<use href="#mTri" x="1083.42" y="815.86"/>
<use href="#mTri" x="1125.03" y="815.86"/>
<use href="#mTri" x="1166.64" y="815.86"/>
<use href="#mTri" x="1208.26" y="815.86"/>
<use href="#mTri" x="1249.87" y="829.89"/>
<use href="#mTri" x="1291.49" y="843.91"/>
<use href="#mTri" x="1333.10" y="871.95"/>
<use href="#mTri" x="1374.71" y="900.00"/>
<use href="#mTri" x="1416.33" y="942.06"/>
<use href="#mTri" x="1457.94" y="998.15"/>
<use href="#mTri" x="1499.56" y="1040.22"/>
<use href="#mTri" x="1541.17" y="1068.26"/>
<use href="#mTri" x="1582.78" y="1068.26"/>
<use href="#mTri" x="1624.40" y="1068.26"/>
<use href="#mTri" x="1666.01" y="1054.24"/>
<use href="#mTri" x="1707.63" y="1026.19"/>
<use href="#mTri" x="1749.24" y="1019.18"/>
<use href="#mTri" x="1790.85" y="1019.18"/>
<use href="#mTri" x="1832.47" y="1019.18"/>
<use href="#mTri" x="1874.08" y="1019.18"/>
<use href="#mTri" x="1915.70" y="1019.18"/>
<use href="#mTri" x="1957.31" y="1019.18"/>
<use href="#mTri" x="1998.92" y="1005.16"/>
<use href="#mTri" x="2040.54" y="977.12"/>
<use href="#mTri" x="2082.15" y="942.06"/>
<use href="#mTri" x="2123.77" y="900.00"/>
<use href="#mTri" x="2165.38" y="864.94"/>
<use href="#mTri" x="2206.99" y="836.90"/>
<use href="#mTri" x="2248.61" y="787.82"/>
<use href="#mTri" x="2290.22" y="745.75"/>
<use href="#mTri" x="2331.84" y="724.72"/>
<use href="#mTri" x="2373.45" y="724.72"/>
<use href="#mTri" x="2415.06" y="724.72"/>
<polyline points="292.8,725.0 334.4,732.0 376.0,732.0 417.6,732.0 459.2,732.0 500.8,704.0 542.4,676.0 584.0,641.0 625.7,592.0 667.3,571.0 708.9,571.0 750.5,655.0 792.1,718.0 833.7,753.0 875.3,760.0 917.0,760.0 958.6,816.0 1000.2,900.0 1041.8,984.0 1083.4,1068.0 1125.0,1068.0 1166.6,1047.0 1208.3,1047.0 1249.9,1040.0 1291.5,1040.0 1333.1,1061.0 1374.7,1131.0 1416.3,1215.0 1457.9,1250.0 1499.6,1250.0 1541.2,1250.0 1582.8,1250.0 1624.4,1250.0 1666.0,1250.0 1707.6,1250.0 1749.2,1250.0 1790.9,1250.0 1832.5,1250.0 1874.1,1250.0 1915.7,1264.0 1957.3,1264.0 1998.9,1264.0 2040.5,1264.0 2082.2,1250.0 2123.8,1222.0 2165.4,1201.0 2207.0,1187.0 2248.6,1173.0 2290.2,1152.0 2331.8,1131.0 2373.4,1082.0 2415.1,1061.0" fill="none" stroke="#7e60a0" stroke-width="8.0" stroke-linejoin="miter" stroke-miterlimit="3" stroke-linecap="round"/>
<use href="#mX" x="292.75" y="724.72"/>
<use href="#mX" x="334.36" y="731.73"/>
<use href="#mX" x="375.98" y="731.73"/>
<use href="#mX" x="417.59" y="731.73"/>
<use href="#mX" x="459.21" y="731.73"/>
<use href="#mX" x="500.82" y="703.69"/>
<use href="#mX" x="542.43" y="675.64"/>
<use href="#mX" x="584.05" y="640.59"/>
<use href="#mX" x="625.66" y="591.51"/>
<use href="#mX" x="667.28" y="570.48"/>
<use href="#mX" x="708.89" y="570.48"/>
<use href="#mX" x="750.50" y="654.61"/>
<use href="#mX" x="792.12" y="717.71"/>
<use href="#mX" x="833.73" y="752.76"/>
<use href="#mX" x="875.35" y="759.78"/>
<use href="#mX" x="916.96" y="759.78"/>
<use href="#mX" x="958.57" y="815.86"/>
<use href="#mX" x="1000.19" y="900.00"/>
<use href="#mX" x="1041.80" y="984.13"/>
<use href="#mX" x="1083.42" y="1068.26"/>
<use href="#mX" x="1125.03" y="1068.26"/>
<use href="#mX" x="1166.64" y="1047.23"/>
<use href="#mX" x="1208.26" y="1047.23"/>
<use href="#mX" x="1249.87" y="1040.22"/>
<use href="#mX" x="1291.49" y="1040.22"/>
<use href="#mX" x="1333.10" y="1061.25"/>
<use href="#mX" x="1374.71" y="1131.36"/>
<use href="#mX" x="1416.33" y="1215.49"/>
<use href="#mX" x="1457.94" y="1250.55"/>
<use href="#mX" x="1499.56" y="1250.55"/>
<use href="#mX" x="1541.17" y="1250.55"/>
<use href="#mX" x="1582.78" y="1250.55"/>
<use href="#mX" x="1624.40" y="1250.55"/>
<use href="#mX" x="1666.01" y="1250.55"/>
<use href="#mX" x="1707.63" y="1250.55"/>
<use href="#mX" x="1749.24" y="1250.55"/>
<use href="#mX" x="1790.85" y="1250.55"/>
<use href="#mX" x="1832.47" y="1250.55"/>
<use href="#mX" x="1874.08" y="1250.55"/>
<use href="#mX" x="1915.70" y="1264.57"/>
<use href="#mX" x="1957.31" y="1264.57"/>
<use href="#mX" x="1998.92" y="1264.57"/>
<use href="#mX" x="2040.54" y="1264.57"/>
<use href="#mX" x="2082.15" y="1250.55"/>
<use href="#mX" x="2123.77" y="1222.50"/>
<use href="#mX" x="2165.38" y="1201.47"/>
<use href="#mX" x="2206.99" y="1187.45"/>
<use href="#mX" x="2248.61" y="1173.42"/>
<use href="#mX" x="2290.22" y="1152.39"/>
<use href="#mX" x="2331.84" y="1131.36"/>
<use href="#mX" x="2373.45" y="1082.28"/>
<use href="#mX" x="2415.06" y="1061.25"/>
<polyline points="292.8,1040.0 334.4,1019.0 376.0,998.0 417.6,984.0 459.2,963.0 500.8,935.0 542.4,900.0 584.0,830.0 625.7,760.0 667.3,690.0 708.9,620.0 750.5,592.0 792.1,592.0 833.7,592.0 875.3,627.0 917.0,697.0 958.6,774.0 1000.2,837.0 1041.8,844.0 1083.4,844.0 1125.0,844.0 1166.6,844.0 1208.3,844.0 1249.9,886.0 1291.5,970.0 1333.1,1054.0 1374.7,1138.0 1416.3,1187.0 1457.9,1229.0 1499.6,1243.0 1541.2,1257.0 1582.8,1257.0 1624.4,1257.0 1666.0,1264.0 1707.6,1264.0 1749.2,1292.0 1790.9,1292.0 1832.5,1306.0 1874.1,1306.0 1915.7,1306.0 1957.3,1320.0 1998.9,1320.0 2040.5,1320.0 2082.2,1320.0 2123.8,1313.0 2165.4,1306.0 2207.0,1278.0 2248.6,1278.0 2290.2,1236.0 2331.8,1236.0 2373.4,1194.0 2415.1,1194.0" fill="none" stroke="#46aac5" stroke-width="8.0" stroke-linejoin="miter" stroke-miterlimit="3" stroke-linecap="round"/>
<use href="#mStar" x="292.75" y="1040.22"/>
<use href="#mStar" x="334.36" y="1019.18"/>
<use href="#mStar" x="375.98" y="998.15"/>
<use href="#mStar" x="417.59" y="984.13"/>
<use href="#mStar" x="459.21" y="963.10"/>
<use href="#mStar" x="500.82" y="935.05"/>
<use href="#mStar" x="542.43" y="900.00"/>
<use href="#mStar" x="584.05" y="829.89"/>
<use href="#mStar" x="625.66" y="759.78"/>
<use href="#mStar" x="667.28" y="689.67"/>
<use href="#mStar" x="708.89" y="619.56"/>
<use href="#mStar" x="750.50" y="591.51"/>
<use href="#mStar" x="792.12" y="591.51"/>
<use href="#mStar" x="833.73" y="591.51"/>
<use href="#mStar" x="875.35" y="626.57"/>
<use href="#mStar" x="916.96" y="696.68"/>
<use href="#mStar" x="958.57" y="773.80"/>
<use href="#mStar" x="1000.19" y="836.90"/>
<use href="#mStar" x="1041.80" y="843.91"/>
<use href="#mStar" x="1083.42" y="843.91"/>
<use href="#mStar" x="1125.03" y="843.91"/>
<use href="#mStar" x="1166.64" y="843.91"/>
<use href="#mStar" x="1208.26" y="843.91"/>
<use href="#mStar" x="1249.87" y="885.97"/>
<use href="#mStar" x="1291.49" y="970.11"/>
<use href="#mStar" x="1333.10" y="1054.24"/>
<use href="#mStar" x="1374.71" y="1138.37"/>
<use href="#mStar" x="1416.33" y="1187.45"/>
<use href="#mStar" x="1457.94" y="1229.51"/>
<use href="#mStar" x="1499.56" y="1243.54"/>
<use href="#mStar" x="1541.17" y="1257.56"/>
<use href="#mStar" x="1582.78" y="1257.56"/>
<use href="#mStar" x="1624.40" y="1257.56"/>
<use href="#mStar" x="1666.01" y="1264.57"/>
<use href="#mStar" x="1707.63" y="1264.57"/>
<use href="#mStar" x="1749.24" y="1292.61"/>
<use href="#mStar" x="1790.85" y="1292.61"/>
<use href="#mStar" x="1832.47" y="1306.63"/>
<use href="#mStar" x="1874.08" y="1306.63"/>
<use href="#mStar" x="1915.70" y="1306.63"/>
<use href="#mStar" x="1957.31" y="1320.66"/>
<use href="#mStar" x="1998.92" y="1320.66"/>
<use href="#mStar" x="2040.54" y="1320.66"/>
<use href="#mStar" x="2082.15" y="1320.66"/>
<use href="#mStar" x="2123.77" y="1313.64"/>
<use href="#mStar" x="2165.38" y="1306.63"/>
<use href="#mStar" x="2206.99" y="1278.59"/>
<use href="#mStar" x="2248.61" y="1278.59"/>
<use href="#mStar" x="2290.22" y="1236.52"/>
<use href="#mStar" x="2331.84" y="1236.52"/>
<use href="#mStar" x="2373.45" y="1194.46"/>
<use href="#mStar" x="2415.06" y="1194.46"/>
<polyline points="292.8,1194.0 334.4,1180.0 376.0,1145.0 417.6,1138.0 459.2,1124.0 500.8,1110.0 542.4,1096.0 584.0,1068.0 625.7,1019.0 667.3,935.0 708.9,851.0" fill="none" stroke="#4a7ebb" stroke-width="8.0" stroke-linejoin="miter" stroke-miterlimit="3" stroke-linecap="round"/>
<use href="#mDia" x="292.75" y="1194.46"/>
<use href="#mDia" x="334.36" y="1180.44"/>
<use href="#mDia" x="375.98" y="1145.38"/>
<use href="#mDia" x="417.59" y="1138.37"/>
<use href="#mDia" x="459.21" y="1124.35"/>
<use href="#mDia" x="500.82" y="1110.33"/>
<use href="#mDia" x="542.43" y="1096.30"/>
<use href="#mDia" x="584.05" y="1068.26"/>
<use href="#mDia" x="625.66" y="1019.18"/>
<use href="#mDia" x="667.28" y="935.05"/>
<use href="#mDia" x="708.89" y="850.92"/>
<g fill="#000">
<line x1="424.2" y1="1494.0" x2="487.9" y2="1494.0" stroke="#9aba58" stroke-width="8" stroke-linecap="round"/>
<use href="#mTri" transform="translate(456.2 1494.0) scale(0.78)"/>
<text x="495.04" y="1502.60" font-size="29.5" class="b" textLength="98.78" lengthAdjust="spacingAndGlyphs">Lechón</text>
<text x="600.15" y="1502.60" font-size="29.5" class="b" textLength="33.59" lengthAdjust="spacingAndGlyphs">20</text>
<text x="640.28" y="1502.60" font-size="29.5" class="b" textLength="35.45" lengthAdjust="spacingAndGlyphs">kg</text>
<text x="680.99" y="1502.60" font-size="29.5" class="b" textLength="64.69" lengthAdjust="spacingAndGlyphs">2019</text>
<line x1="926.7" y1="1494.0" x2="990.4" y2="1494.0" stroke="#7e60a0" stroke-width="8" stroke-linecap="round"/>
<use href="#mX" transform="translate(958.7 1494.0) scale(0.78)"/>
<text x="997.54" y="1502.60" font-size="29.5" class="b" textLength="98.78" lengthAdjust="spacingAndGlyphs">Lechón</text>
<text x="1102.65" y="1502.60" font-size="29.5" class="b" textLength="33.59" lengthAdjust="spacingAndGlyphs">20</text>
<text x="1142.78" y="1502.60" font-size="29.5" class="b" textLength="35.45" lengthAdjust="spacingAndGlyphs">kg</text>
<text x="1183.46" y="1502.60" font-size="29.5" class="b" textLength="66.88" lengthAdjust="spacingAndGlyphs">2020</text>
<line x1="1432.8" y1="1494.0" x2="1496.5" y2="1494.0" stroke="#46aac5" stroke-width="8" stroke-linecap="round"/>
<use href="#mStar" transform="translate(1464.8 1494.0) scale(0.78)"/>
<text x="1503.64" y="1502.60" font-size="29.5" class="b" textLength="98.78" lengthAdjust="spacingAndGlyphs">Lechón</text>
<text x="1608.75" y="1502.60" font-size="29.5" class="b" textLength="33.59" lengthAdjust="spacingAndGlyphs">20</text>
<text x="1648.88" y="1502.60" font-size="29.5" class="b" textLength="35.45" lengthAdjust="spacingAndGlyphs">kg</text>
<text x="1689.64" y="1502.60" font-size="29.5" class="b" textLength="61.53" lengthAdjust="spacingAndGlyphs">2021</text>
<line x1="1934.6" y1="1494.0" x2="1998.3" y2="1494.0" stroke="#4a7ebb" stroke-width="8" stroke-linecap="round"/>
<use href="#mDia" transform="translate(1966.6 1494.0) scale(0.78)"/>
<text x="2005.44" y="1502.60" font-size="29.5" class="b" textLength="98.78" lengthAdjust="spacingAndGlyphs">Lechón</text>
<text x="2110.55" y="1502.60" font-size="29.5" class="b" textLength="33.59" lengthAdjust="spacingAndGlyphs">20</text>
<text x="2150.68" y="1502.60" font-size="29.5" class="b" textLength="35.45" lengthAdjust="spacingAndGlyphs">kg</text>
<text x="2191.38" y="1502.60" font-size="29.5" class="b" textLength="65.60" lengthAdjust="spacingAndGlyphs">2022</text>
</g>
<g fill="#828282" class="i">
<text x="205.47" y="1789.40" font-size="19.2" textLength="61.08" lengthAdjust="spacingAndGlyphs">Aunque</text>
<text x="270.60" y="1789.40" font-size="19.2" textLength="36.30" lengthAdjust="spacingAndGlyphs">DSM</text>
<text x="311.79" y="1789.40" font-size="19.2" textLength="20.84" lengthAdjust="spacingAndGlyphs">ha</text>
<text x="338.56" y="1789.40" font-size="19.2" textLength="55.33" lengthAdjust="spacingAndGlyphs">puesto</text>
<text x="397.65" y="1789.40" font-size="19.2" textLength="36.46" lengthAdjust="spacingAndGlyphs">todo</text>
<text x="441.97" y="1789.40" font-size="19.2" textLength="14.58" lengthAdjust="spacingAndGlyphs">el</text>
<text x="462.59" y="1789.40" font-size="19.2" textLength="65.63" lengthAdjust="spacingAndGlyphs">cuidado</text>
<text x="534.97" y="1789.40" font-size="19.2" textLength="37.50" lengthAdjust="spacingAndGlyphs">para</text>
<text x="577.76" y="1789.40" font-size="19.2" textLength="83.31" lengthAdjust="spacingAndGlyphs">garantizar</text>
<text x="667.87" y="1789.40" font-size="19.2" textLength="31.26" lengthAdjust="spacingAndGlyphs">que</text>
<text x="705.92" y="1789.40" font-size="19.2" textLength="13.36" lengthAdjust="spacingAndGlyphs">la</text>
<text x="723.60" y="1789.40" font-size="19.2" textLength="96.84" lengthAdjust="spacingAndGlyphs">información</text>
<text x="829.09" y="1789.40" font-size="19.2" textLength="35.24" lengthAdjust="spacingAndGlyphs">aquí</text>
<text x="870.39" y="1789.40" font-size="19.2" textLength="81.25" lengthAdjust="spacingAndGlyphs">contenida</text>
<text x="959.10" y="1789.40" font-size="19.2" textLength="18.66" lengthAdjust="spacingAndGlyphs">es</text>
<text x="981.99" y="1789.40" font-size="19.2" textLength="67.68" lengthAdjust="spacingAndGlyphs">correcta</text>
<text x="1055.70" y="1789.40" font-size="19.2" textLength="7.08" lengthAdjust="spacingAndGlyphs">y</text>
<text x="1068.07" y="1789.40" font-size="19.2" textLength="35.41" lengthAdjust="spacingAndGlyphs">está</text>
<text x="1108.58" y="1789.40" font-size="19.2" textLength="99.99" lengthAdjust="spacingAndGlyphs">actualizada,</text>
<text x="1214.29" y="1789.40" font-size="19.2" textLength="36.81" lengthAdjust="spacingAndGlyphs">DSM</text>
<text x="1255.99" y="1789.40" font-size="19.2" textLength="20.84" lengthAdjust="spacingAndGlyphs">no</text>
<text x="1282.20" y="1789.40" font-size="19.2" textLength="53.77" lengthAdjust="spacingAndGlyphs">asume</text>
<text x="1340.19" y="1789.40" font-size="19.2" textLength="66.68" lengthAdjust="spacingAndGlyphs">ninguna</text>
<text x="1413.46" y="1789.40" font-size="19.2" textLength="68.75" lengthAdjust="spacingAndGlyphs">garantía</text>
<text x="1489.18" y="1789.40" font-size="19.2" textLength="55.75" lengthAdjust="spacingAndGlyphs">acerca</text>
<text x="1548.87" y="1789.40" font-size="19.2" textLength="20.84" lengthAdjust="spacingAndGlyphs">de</text>
<text x="1574.40" y="1789.40" font-size="19.2" textLength="14.58" lengthAdjust="spacingAndGlyphs">la</text>
<text x="1594.97" y="1789.40" font-size="19.2" textLength="80.19" lengthAdjust="spacingAndGlyphs">exactitud,</text>
<text x="1680.57" y="1789.40" font-size="19.2" textLength="73.95" lengthAdjust="spacingAndGlyphs">fiabilidad</text>
<text x="1766.83" y="1789.40" font-size="19.2" textLength="9.73" lengthAdjust="spacingAndGlyphs">o</text>
<text x="1780.90" y="1789.40" font-size="19.2" textLength="82.29" lengthAdjust="spacingAndGlyphs">integridad</text>
<text x="1872.77" y="1789.40" font-size="19.2" textLength="20.83" lengthAdjust="spacingAndGlyphs">de</text>
<text x="1897.80" y="1789.40" font-size="19.2" textLength="14.58" lengthAdjust="spacingAndGlyphs">la</text>
<text x="1919.20" y="1789.40" font-size="19.2" textLength="102.05" lengthAdjust="spacingAndGlyphs">información.</text>
<text x="2028.46" y="1789.40" font-size="19.2" textLength="28.51" lengthAdjust="spacingAndGlyphs">Los</text>
<text x="2061.17" y="1789.40" font-size="19.2" textLength="45.83" lengthAdjust="spacingAndGlyphs">datos</text>
<text x="2112.99" y="1789.40" font-size="19.2" textLength="35.24" lengthAdjust="spacingAndGlyphs">aquí</text>
<text x="2154.29" y="1789.40" font-size="19.2" textLength="90.62" lengthAdjust="spacingAndGlyphs">contenidos</text>
<text x="2250.55" y="1789.40" font-size="19.2" textLength="30.21" lengthAdjust="spacingAndGlyphs">son</text>
<text x="2286.37" y="1789.40" font-size="19.2" textLength="37.50" lengthAdjust="spacingAndGlyphs">para</text>
<text x="2329.28" y="1789.40" font-size="19.2" textLength="38.69" lengthAdjust="spacingAndGlyphs">fines</text>
<text x="204.30" y="1811.40" font-size="19.2" textLength="100.36" lengthAdjust="spacingAndGlyphs">informativos</text>
<text x="314.20" y="1811.40" font-size="19.2" textLength="7.08" lengthAdjust="spacingAndGlyphs">y</text>
<text x="326.57" y="1811.40" font-size="19.2" textLength="45.47" lengthAdjust="spacingAndGlyphs">están</text>
<text x="375.77" y="1811.40" font-size="19.2" textLength="90.05" lengthAdjust="spacingAndGlyphs">destinados</text>
<text x="471.95" y="1811.40" font-size="19.2" textLength="85.89" lengthAdjust="spacingAndGlyphs">solamente</text>
<text x="563.96" y="1811.40" font-size="19.2" textLength="36.97" lengthAdjust="spacingAndGlyphs">para</text>
<text x="605.46" y="1811.40" font-size="19.2" textLength="19.11" lengthAdjust="spacingAndGlyphs">su</text>
<text x="628.62" y="1811.40" font-size="19.2" textLength="30.02" lengthAdjust="spacingAndGlyphs">uso</text>
<text x="662.79" y="1811.40" font-size="19.2" textLength="20.24" lengthAdjust="spacingAndGlyphs">en</text>
<text x="687.10" y="1811.40" font-size="19.2" textLength="23.80" lengthAdjust="spacingAndGlyphs">las</text>
<text x="715.68" y="1811.40" font-size="19.2" textLength="85.67" lengthAdjust="spacingAndGlyphs">empresas.</text>
<text x="803.76" y="1811.40" font-size="19.2" textLength="34.93" lengthAdjust="spacingAndGlyphs">Esta</text>
<text x="843.76" y="1811.40" font-size="19.2" textLength="93.15" lengthAdjust="spacingAndGlyphs">publicación</text>
<text x="942.49" y="1811.40" font-size="19.2" textLength="20.71" lengthAdjust="spacingAndGlyphs">no</text>
<text x="967.39" y="1811.40" font-size="19.2" textLength="83.82" lengthAdjust="spacingAndGlyphs">constituye</text>
<text x="1058.29" y="1811.40" font-size="19.2" textLength="14.49" lengthAdjust="spacingAndGlyphs">ni</text>
<text x="1079.26" y="1811.40" font-size="19.2" textLength="98.32" lengthAdjust="spacingAndGlyphs">proporciona</text>
<text x="1184.08" y="1811.40" font-size="19.2" textLength="122.11" lengthAdjust="spacingAndGlyphs">asesoramiento</text>
<text x="1310.99" y="1811.40" font-size="19.2" textLength="73.47" lengthAdjust="spacingAndGlyphs">científico</text>
<text x="1391.49" y="1811.40" font-size="19.2" textLength="10.35" lengthAdjust="spacingAndGlyphs">o</text>
<text x="1406.89" y="1811.40" font-size="19.2" textLength="65.19" lengthAdjust="spacingAndGlyphs">médico,</text>
<text x="1475.87" y="1811.40" font-size="19.2" textLength="94.18" lengthAdjust="spacingAndGlyphs">diagnóstico</text>
<text x="1574.09" y="1811.40" font-size="19.2" textLength="10.35" lengthAdjust="spacingAndGlyphs">o</text>
<text x="1590.25" y="1811.40" font-size="19.2" textLength="93.13" lengthAdjust="spacingAndGlyphs">tratamiento</text>
<text x="1695.11" y="1811.40" font-size="19.2" textLength="7.17" lengthAdjust="spacingAndGlyphs">y</text>
<text x="1708.16" y="1811.40" font-size="19.2" textLength="18.08" lengthAdjust="spacingAndGlyphs">se</text>
<text x="1730.17" y="1811.40" font-size="19.2" textLength="79.68" lengthAdjust="spacingAndGlyphs">distribuye</text>
<text x="1816.95" y="1811.40" font-size="19.2" textLength="23.80" lengthAdjust="spacingAndGlyphs">sin</text>
<text x="1845.16" y="1811.40" font-size="19.2" textLength="68.31" lengthAdjust="spacingAndGlyphs">garantía</text>
<text x="1920.09" y="1811.40" font-size="19.2" textLength="20.08" lengthAdjust="spacingAndGlyphs">de</text>
<text x="1944.39" y="1811.40" font-size="19.2" textLength="55.90" lengthAdjust="spacingAndGlyphs">ningún</text>
<text x="2005.55" y="1811.40" font-size="19.2" textLength="35.19" lengthAdjust="spacingAndGlyphs">tipo,</text>
<text x="2047.59" y="1811.40" font-size="19.2" textLength="14.49" lengthAdjust="spacingAndGlyphs">ni</text>
<text x="2068.19" y="1811.40" font-size="19.2" textLength="64.53" lengthAdjust="spacingAndGlyphs">expresa</text>
<text x="2136.99" y="1811.40" font-size="19.2" textLength="14.49" lengthAdjust="spacingAndGlyphs">ni</text>
<text x="2157.10" y="1811.40" font-size="19.2" textLength="120.02" lengthAdjust="spacingAndGlyphs">implícitamente</text>
<text x="2285.40" y="1811.40" font-size="19.2" textLength="19.94" lengthAdjust="spacingAndGlyphs">En</text>
<text x="2312.54" y="1811.40" font-size="19.2" textLength="55.90" lengthAdjust="spacingAndGlyphs">ningún</text>
<text x="203.99" y="1833.40" font-size="19.2" textLength="39.63" lengthAdjust="spacingAndGlyphs">caso</text>
<text x="247.90" y="1833.40" font-size="19.2" textLength="36.40" lengthAdjust="spacingAndGlyphs">DSM</text>
<text x="289.46" y="1833.40" font-size="19.2" textLength="35.72" lengthAdjust="spacingAndGlyphs">será</text>
<text x="329.49" y="1833.40" font-size="19.2" textLength="102.21" lengthAdjust="spacingAndGlyphs">responsable</text>
<text x="437.37" y="1833.40" font-size="19.2" textLength="20.83" lengthAdjust="spacingAndGlyphs">de</text>
<text x="462.40" y="1833.40" font-size="19.2" textLength="23.98" lengthAdjust="spacingAndGlyphs">los</text>
<text x="491.57" y="1833.40" font-size="19.2" textLength="51.11" lengthAdjust="spacingAndGlyphs">daños</text>
<text x="548.27" y="1833.40" font-size="19.2" textLength="81.34" lengthAdjust="spacingAndGlyphs">derivados</text>
<text x="633.88" y="1833.40" font-size="19.2" textLength="20.51" lengthAdjust="spacingAndGlyphs">de</text>
<text x="658.60" y="1833.40" font-size="19.2" textLength="14.60" lengthAdjust="spacingAndGlyphs">la</text>
<text x="681.69" y="1833.40" font-size="19.2" textLength="80.31" lengthAdjust="spacingAndGlyphs">confianza</text>
<text x="767.17" y="1833.40" font-size="19.2" textLength="25.03" lengthAdjust="spacingAndGlyphs">del</text>
<text x="799.00" y="1833.40" font-size="19.2" textLength="45.87" lengthAdjust="spacingAndGlyphs">lector</text>
<text x="852.05" y="1833.40" font-size="19.2" textLength="52.14" lengthAdjust="spacingAndGlyphs">sobre,</text>
<text x="908.19" y="1833.40" font-size="19.2" textLength="10.43" lengthAdjust="spacingAndGlyphs">o</text>
<text x="923.27" y="1833.40" font-size="19.2" textLength="14.60" lengthAdjust="spacingAndGlyphs">el</text>
<text x="943.31" y="1833.40" font-size="19.2" textLength="30.25" lengthAdjust="spacingAndGlyphs">uso</text>
<text x="978.67" y="1833.40" font-size="19.2" textLength="20.87" lengthAdjust="spacingAndGlyphs">de</text>
<text x="1003.87" y="1833.40" font-size="19.2" textLength="44.41" lengthAdjust="spacingAndGlyphs">estos</text>
<text x="1052.47" y="1833.40" font-size="19.2" textLength="51.10" lengthAdjust="spacingAndGlyphs">datos.</text>
<text x="1109.78" y="1833.40" font-size="19.2" textLength="15.04" lengthAdjust="spacingAndGlyphs">El</text>
<text x="1130.10" y="1833.40" font-size="19.2" textLength="45.87" lengthAdjust="spacingAndGlyphs">lector</text>
<text x="1183.26" y="1833.40" font-size="19.2" textLength="35.72" lengthAdjust="spacingAndGlyphs">será</text>
<text x="1222.97" y="1833.40" font-size="19.2" textLength="14.60" lengthAdjust="spacingAndGlyphs">el</text>
<text x="1242.91" y="1833.40" font-size="19.2" textLength="44.85" lengthAdjust="spacingAndGlyphs">único</text>
<text x="1293.59" y="1833.40" font-size="19.2" textLength="102.21" lengthAdjust="spacingAndGlyphs">responsable</text>
<text x="1400.27" y="1833.40" font-size="19.2" textLength="20.87" lengthAdjust="spacingAndGlyphs">de</text>
<text x="1425.49" y="1833.40" font-size="19.2" textLength="76.13" lengthAdjust="spacingAndGlyphs">cualquier</text>
<text x="1509.40" y="1833.40" font-size="19.2" textLength="113.67" lengthAdjust="spacingAndGlyphs">interpretación</text>
<text x="1631.99" y="1833.40" font-size="19.2" textLength="10.43" lengthAdjust="spacingAndGlyphs">o</text>
<text x="1648.87" y="1833.40" font-size="19.2" textLength="14.60" lengthAdjust="spacingAndGlyphs">el</text>
<text x="1668.31" y="1833.40" font-size="19.2" textLength="30.18" lengthAdjust="spacingAndGlyphs">uso</text>
<text x="1702.47" y="1833.40" font-size="19.2" textLength="25.03" lengthAdjust="spacingAndGlyphs">del</text>
<text x="1733.09" y="1833.40" font-size="19.2" textLength="66.72" lengthAdjust="spacingAndGlyphs">material</text>
<text x="1808.29" y="1833.40" font-size="19.2" textLength="81.36" lengthAdjust="spacingAndGlyphs">contenido</text>
<text x="1896.17" y="1833.40" font-size="19.2" textLength="20.87" lengthAdjust="spacingAndGlyphs">en</text>
<text x="1922.07" y="1833.40" font-size="19.2" textLength="35.46" lengthAdjust="spacingAndGlyphs">este</text>
<text x="1961.67" y="1833.40" font-size="19.2" textLength="92.82" lengthAdjust="spacingAndGlyphs">documento</text>
<text x="2061.30" y="1833.40" font-size="19.2" textLength="14.54" lengthAdjust="spacingAndGlyphs">El</text>
<text x="2080.79" y="1833.40" font-size="19.2" textLength="81.36" lengthAdjust="spacingAndGlyphs">contenido</text>
<text x="2169.37" y="1833.40" font-size="19.2" textLength="20.87" lengthAdjust="spacingAndGlyphs">de</text>
<text x="2194.57" y="1833.40" font-size="19.2" textLength="35.22" lengthAdjust="spacingAndGlyphs">este</text>
<text x="2233.67" y="1833.40" font-size="19.2" textLength="92.82" lengthAdjust="spacingAndGlyphs">documento</text>
<text x="2333.07" y="1833.40" font-size="19.2" textLength="35.11" lengthAdjust="spacingAndGlyphs">está</text>
<text x="204.55" y="1855.40" font-size="19.2" textLength="49.62" lengthAdjust="spacingAndGlyphs">sujeto</text>
<text x="261.38" y="1855.40" font-size="19.2" textLength="10.34" lengthAdjust="spacingAndGlyphs">a</text>
<text x="276.29" y="1855.40" font-size="19.2" textLength="69.24" lengthAdjust="spacingAndGlyphs">cambios</text>
<text x="352.35" y="1855.40" font-size="19.2" textLength="23.77" lengthAdjust="spacingAndGlyphs">sin</text>
<text x="382.36" y="1855.40" font-size="19.2" textLength="50.64" lengthAdjust="spacingAndGlyphs">previo</text>
<text x="438.88" y="1855.40" font-size="19.2" textLength="48.57" lengthAdjust="spacingAndGlyphs">aviso.</text>
<text x="491.63" y="1855.40" font-size="19.2" textLength="72.85" lengthAdjust="spacingAndGlyphs">Póngase</text>
<text x="568.37" y="1855.40" font-size="19.2" textLength="20.68" lengthAdjust="spacingAndGlyphs">en</text>
<text x="593.59" y="1855.40" font-size="19.2" textLength="70.29" lengthAdjust="spacingAndGlyphs">contacto</text>
<text x="671.59" y="1855.40" font-size="19.2" textLength="29.98" lengthAdjust="spacingAndGlyphs">con</text>
<text x="708.76" y="1855.40" font-size="19.2" textLength="18.39" lengthAdjust="spacingAndGlyphs">su</text>
<text x="731.69" y="1855.40" font-size="19.2" textLength="114.74" lengthAdjust="spacingAndGlyphs">representante</text>
<text x="852.30" y="1855.40" font-size="19.2" textLength="38.24" lengthAdjust="spacingAndGlyphs">local</text>
<text x="898.07" y="1855.40" font-size="19.2" textLength="20.68" lengthAdjust="spacingAndGlyphs">de</text>
<text x="923.90" y="1855.40" font-size="19.2" textLength="36.40" lengthAdjust="spacingAndGlyphs">DSM</text>
<text x="965.96" y="1855.40" font-size="19.2" textLength="37.22" lengthAdjust="spacingAndGlyphs">para</text>
<text x="1007.99" y="1855.40" font-size="19.2" textLength="35.13" lengthAdjust="spacingAndGlyphs">más</text>
<text x="1047.97" y="1855.40" font-size="19.2" textLength="69.26" lengthAdjust="spacingAndGlyphs">detalles.</text>
<text x="1122.43" y="1855.40" font-size="19.2" textLength="51.68" lengthAdjust="spacingAndGlyphs">Todas</text>
<text x="1180.51" y="1855.40" font-size="19.2" textLength="23.16" lengthAdjust="spacingAndGlyphs">las</text>
<text x="1208.19" y="1855.40" font-size="19.2" textLength="60.96" lengthAdjust="spacingAndGlyphs">marcas</text>
<text x="1274.39" y="1855.40" font-size="19.2" textLength="99.20" lengthAdjust="spacingAndGlyphs">comerciales</text>
<text x="1378.49" y="1855.40" font-size="19.2" textLength="110.60" lengthAdjust="spacingAndGlyphs">mencionadas</text>
<text x="1494.77" y="1855.40" font-size="19.2" textLength="20.68" lengthAdjust="spacingAndGlyphs">en</text>
<text x="1519.47" y="1855.40" font-size="19.2" textLength="35.15" lengthAdjust="spacingAndGlyphs">este</text>
<text x="1558.97" y="1855.40" font-size="19.2" textLength="49.62" lengthAdjust="spacingAndGlyphs">folleto</text>
<text x="1618.75" y="1855.40" font-size="19.2" textLength="29.98" lengthAdjust="spacingAndGlyphs">son</text>
<text x="1653.70" y="1855.40" font-size="19.2" textLength="59.68" lengthAdjust="spacingAndGlyphs">marcas</text>
<text x="1717.59" y="1855.40" font-size="19.2" textLength="99.20" lengthAdjust="spacingAndGlyphs">comerciales</text>
<text x="1823.49" y="1855.40" font-size="19.2" textLength="91.98" lengthAdjust="spacingAndGlyphs">registradas</text>
<text x="1923.89" y="1855.40" font-size="19.2" textLength="10.34" lengthAdjust="spacingAndGlyphs">o</text>
<text x="1939.29" y="1855.40" font-size="19.2" textLength="60.96" lengthAdjust="spacingAndGlyphs">marcas</text>
<text x="2004.49" y="1855.40" font-size="19.2" textLength="99.20" lengthAdjust="spacingAndGlyphs">comerciales</text>
<text x="2108.97" y="1855.40" font-size="19.2" textLength="20.68" lengthAdjust="spacingAndGlyphs">de</text>
<text x="2134.29" y="1855.40" font-size="19.2" textLength="36.81" lengthAdjust="spacingAndGlyphs">DSM</text>
<text x="2175.67" y="1855.40" font-size="19.2" textLength="20.68" lengthAdjust="spacingAndGlyphs">en</text>
<text x="2201.20" y="1855.40" font-size="19.2" textLength="23.77" lengthAdjust="spacingAndGlyphs">los</text>
<text x="2231.16" y="1855.40" font-size="19.2" textLength="53.70" lengthAdjust="spacingAndGlyphs">Países</text>
<text x="2289.13" y="1855.40" font-size="19.2" textLength="46.51" lengthAdjust="spacingAndGlyphs">Bajos</text>
<text x="2343.17" y="1855.40" font-size="19.2" textLength="24.80" lengthAdjust="spacingAndGlyphs">y/u</text>
<text x="204.29" y="1877.40" font-size="19.2" textLength="107.21" lengthAdjust="spacingAndGlyphs">otros países.</text>
</g>
<g fill="#1a8ed1">
<text x="1816.84" y="1953.90" font-size="28.3" class="b" textLength="135.24" lengthAdjust="spacingAndGlyphs">NUTRITION</text>
<text x="1984.70" y="1953.90" font-size="28.3" class="b" textLength="91.22" lengthAdjust="spacingAndGlyphs">HEALTH</text>
<text x="2110.61" y="1953.90" font-size="28.3" class="b" textLength="169.62" lengthAdjust="spacingAndGlyphs">SUSTAINABLE</text>
<text x="2287.65" y="1953.90" font-size="28.3" class="b" textLength="82.39" lengthAdjust="spacingAndGlyphs">LIVING</text>
<circle cx="1969.3" cy="1944.7" r="2.5"/><circle cx="2094.3" cy="1944.7" r="2.5"/>
</g>
</svg>
</body>
</html>
